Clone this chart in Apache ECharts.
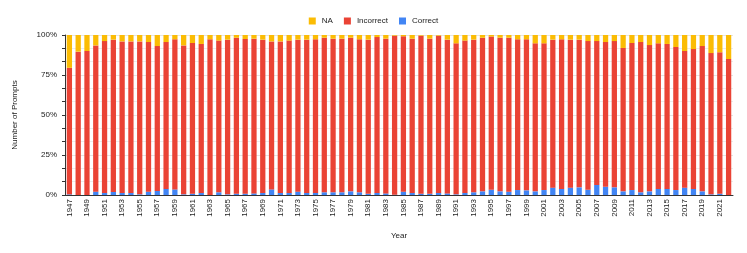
<!DOCTYPE html>
<html>
<head>
<meta charset="utf-8">
<script src="https://cdn.jsdelivr.net/npm/echarts@6/dist/echarts.min.js"></script>
<style>
html,body{margin:0;padding:0;background:#fff;}
#chart{width:747px;height:253px;}
</style>
</head>
<body>
<div id="chart"></div>
<script>
const years = ["1947","1948","1949","1950","1951","1952","1953","1954","1955","1956","1957","1958","1959","1960","1961","1962","1963","1964","1965","1966","1967","1968","1969","1970","1971","1972","1973","1974","1975","1976","1977","1978","1979","1980","1981","1982","1983","1984","1985","1986","1987","1988","1989","1990","1991","1992","1993","1994","1995","1996","1997","1998","1999","2000","2001","2002","2003","2004","2005","2006","2007","2008","2009","2010","2011","2012","2013","2014","2015","2016","2017","2018","2019","2020","2021","2022"];

const correct = [0.4,0,0,2.1,1.3,1.9,1.3,1.3,0.4,2.1,2.5,3.8,3.5,0.4,0.8,1.3,0,1.7,0.4,0.8,0.8,1.0,1.3,3.5,1.3,1.3,
2.1,1.3,1.3,1.7,1.7,1.7,2.3,1.7,0.8,1.3,1.0,0.2,2.1,1.3,0.8,0.8,1.3,1.0,0.4,1.3,1.7,2.3,3.3,2.3,2.1,
3.1,2.9,2.3,3.1,4.6,3.8,4.6,4.8,3.3,6.3,5.2,4.8,2.3,3.1,1.7,2.3,3.8,3.8,3.1,4.6,3.8,2.3,0.4,0.8,0];

const incorrect = [79.1,89.6,90,91.4,94.9,95.2,94.7,94.7,95.6,93.5,90.6,91.8,93.8,93.1,94.2,93.1,97.3,94.8,96.7,97.5,96.7,96.7,95.8,92.5,94.7,95.2,
95,95.8,96,96.6,96,96,96,95.6,96.3,97.4,96.7,99.4,97.1,96.4,98.8,96.9,98.3,96.1,94.4,95.2,95.4,96,95.7,96,96.2,
94.2,94.4,92.5,91.7,92.5,93.5,92.5,92.3,92.9,89.9,90.4,91.4,89.6,91.9,93.9,91.4,91,90.6,89.4,85.4,87.4,90.8,88.3,88.4,85];

const na = [20.5,10.4,10,6.5,3.8,2.9,4,4,4,4.4,6.9,4.4,2.7,6.5,5,5.6,2.7,3.5,2.9,1.7,2.5,2.3,2.9,4,4,3.5,
2.9,2.9,2.7,1.7,2.3,2.3,1.7,2.7,2.9,1.3,2.3,0.4,0.8,2.3,0.4,2.3,0.4,2.9,5.2,3.5,2.9,1.7,1.0,1.7,1.7,
2.7,2.7,5.2,5.2,2.9,2.7,2.9,2.9,3.8,3.8,4.4,3.8,8.1,5,4.4,6.3,5.2,5.6,7.5,10,8.8,6.9,11.3,10.8,15];

const yTicks = [0,25,50,75,100];

const FONT = "'Liberation Sans', Arial, sans-serif";
const chart = echarts.init(document.getElementById('chart'), null, {renderer:'canvas'});
chart.setOption({
  animation:false,
  textStyle:{fontFamily:FONT},
  color:['#4285F4','#EA4335','#FBBC04'],
  legend:{
    data:['NA','Incorrect','Correct'],
    top:12, left:'center',
    icon:'rect', itemWidth:7, itemHeight:7, itemGap:11,
    textStyle:{fontSize:8, color:'#222', fontFamily:FONT, padding:[0,0,0,1]}
  },
  grid:{left:65, right:14, top:35, bottom:58},
  xAxis:{
    type:'category',
    data:years,
    name:'Year', nameLocation:'middle', nameGap:37,
    nameTextStyle:{fontSize:8, color:'#222', fontFamily:FONT},
    axisLine:{show:true, lineStyle:{color:'#333', width:1}},
    axisTick:{show:false},
    axisLabel:{rotate:90, interval:1, fontSize:8, color:'#222', margin:4, fontFamily:FONT}
  },
  yAxis:{
    type:'value', min:yTicks[0], max:yTicks[yTicks.length-1], interval:25,
    name:'Number of Prompts', nameLocation:'middle', nameGap:46,
    nameTextStyle:{fontSize:8, color:'#222', fontFamily:FONT},
    axisLine:{show:true, lineStyle:{color:'#333', width:1}},
    axisTick:{show:true, length:3, inside:false, lineStyle:{color:'#333'}},
    minorTick:{show:true, splitNumber:3, length:3, lineStyle:{color:'#333'}},
    axisLabel:{formatter:'{value}%', fontSize:8, color:'#222', margin:8, fontFamily:FONT},
    splitLine:{show:true, lineStyle:{color:'#e4e4e4', width:1}},
    minorSplitLine:{show:true, lineStyle:{color:'#ececec', width:1}}
  },
  series:[
    {name:'Correct', type:'bar', stack:'all', data:correct, barWidth:'60%', itemStyle:{color:'#4285F4'}},
    {name:'Incorrect', type:'bar', stack:'all', data:incorrect, barWidth:'60%', itemStyle:{color:'#EA4335'}},
    {name:'NA', type:'bar', stack:'all', data:na, barWidth:'60%', itemStyle:{color:'#FBBC04'}}
  ]
});
</script>
</body>
</html>
